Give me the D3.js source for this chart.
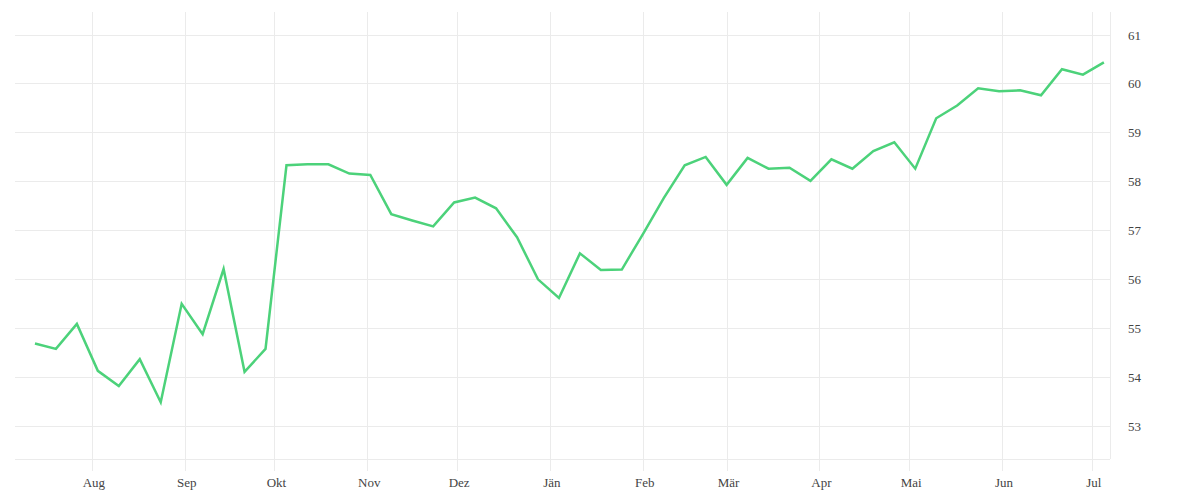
<!DOCTYPE html>
<html>
<head>
<meta charset="utf-8">
<script src="https://cdn.jsdelivr.net/npm/d3@7"></script>
<style>
  html, body { margin: 0; padding: 0; background: #fff; }
  svg { display: block; }
  .lbl { font-family: "Liberation Serif", "DejaVu Serif", serif; font-size: 13px; fill: #444; }
</style>
</head>
<body>
<svg id="chart" width="1200" height="500"></svg>
<script>
const dates = ["2018-07-13","2018-07-20","2018-07-27","2018-08-03","2018-08-10","2018-08-17","2018-08-24","2018-08-31",
  "2018-09-07","2018-09-14","2018-09-21","2018-09-28","2018-10-05","2018-10-12","2018-10-19","2018-10-26",
  "2018-11-02","2018-11-09","2018-11-16","2018-11-23","2018-11-30","2018-12-07","2018-12-14","2018-12-21","2018-12-28",
  "2019-01-04","2019-01-11","2019-01-18","2019-01-25","2019-02-01","2019-02-08","2019-02-15","2019-02-22",
  "2019-03-01","2019-03-08","2019-03-15","2019-03-22","2019-03-29","2019-04-05","2019-04-12","2019-04-19","2019-04-26",
  "2019-05-03","2019-05-10","2019-05-17","2019-05-24","2019-05-31","2019-06-07","2019-06-14","2019-06-21","2019-06-28","2019-07-05"];
const values = [54.69,54.58,55.09,54.13,53.82,54.37,53.49,55.50,54.88,56.21,
  54.11,54.58,58.33,58.35,58.35,58.16,58.13,57.33,57.20,57.08,
  57.57,57.67,57.45,56.86,56.00,55.62,56.53,56.19,56.20,56.92,
  57.66,58.33,58.50,57.93,58.48,58.26,58.28,58.01,58.45,58.26,
  58.62,58.80,58.26,59.29,59.55,59.90,59.84,59.86,59.76,60.29,
  60.18,60.43];
const monthTicks = ["2018-08-01","2018-09-01","2018-10-01","2018-11-01","2018-12-01","2019-01-01",
  "2019-02-01","2019-03-01","2019-04-01","2019-05-01","2019-06-01","2019-07-01"];
const monthLabels = ["Aug","Sep","Okt","Nov","Dez","Jän","Feb","Mär","Apr","Mai","Jun","Jul"];
const yTicks = [53,54,55,56,57,58,59,60,61];

(function () {
const parse = d3.timeParse("%Y-%m-%d");
const data = dates.map((d, i) => ({ date: parse(d), value: values[i] }));
const tickDates = monthTicks.map(parse);

const pL = 15, pR = 1110, pT = 12, pB = 459;
const x = d3.scaleTime()
  .domain([new Date(2018, 6, 6, 8), new Date(2019, 6, 7, 1)])
  .range([pL, pR]);
const y = d3.scaleLinear().domain([52.33, 61.46]).range([pB, pT]);

const svg = d3.select("#chart");
const grid = "#ebebeb";

svg.append("g").selectAll("line").data(yTicks).join("line")
  .attr("x1", pL).attr("x2", pR)
  .attr("y1", d => Math.round(y(d)) + 0.5).attr("y2", d => Math.round(y(d)) + 0.5)
  .attr("stroke", grid).attr("stroke-width", 1);
svg.append("line").attr("x1", pL).attr("x2", pR)
  .attr("y1", pB + 0.5).attr("y2", pB + 0.5)
  .attr("stroke", grid).attr("stroke-width", 1);

svg.append("g").selectAll("line").data(tickDates).join("line")
  .attr("x1", d => Math.round(x(d)) + 0.5).attr("x2", d => Math.round(x(d)) + 0.5)
  .attr("y1", pT).attr("y2", 471)
  .attr("stroke", grid).attr("stroke-width", 1);
svg.append("line").attr("x1", pR + 0.5).attr("x2", pR + 0.5)
  .attr("y1", pT).attr("y2", pB)
  .attr("stroke", grid).attr("stroke-width", 1);

svg.append("g").selectAll("text").data(tickDates).join("text")
  .attr("class", "lbl")
  .attr("x", d => x(d) + 2).attr("y", 484)
  .attr("text-anchor", "middle").attr("dominant-baseline", "middle")
  .text((d, i) => monthLabels[i]);

svg.append("g").selectAll("text").data(yTicks).join("text")
  .attr("class", "lbl")
  .attr("x", 1128).attr("y", d => y(d) + 2)
  .attr("text-anchor", "start").attr("dominant-baseline", "middle")
  .text(d => d);

const line = d3.line().x(d => x(d.date)).y(d => y(d.value));
svg.append("path").datum(data)
  .attr("fill", "none")
  .attr("stroke", "#4cd27a")
  .attr("stroke-width", 2.5)
  .attr("stroke-linejoin", "miter")
  .attr("d", line);
})();
</script>
</body>
</html>
